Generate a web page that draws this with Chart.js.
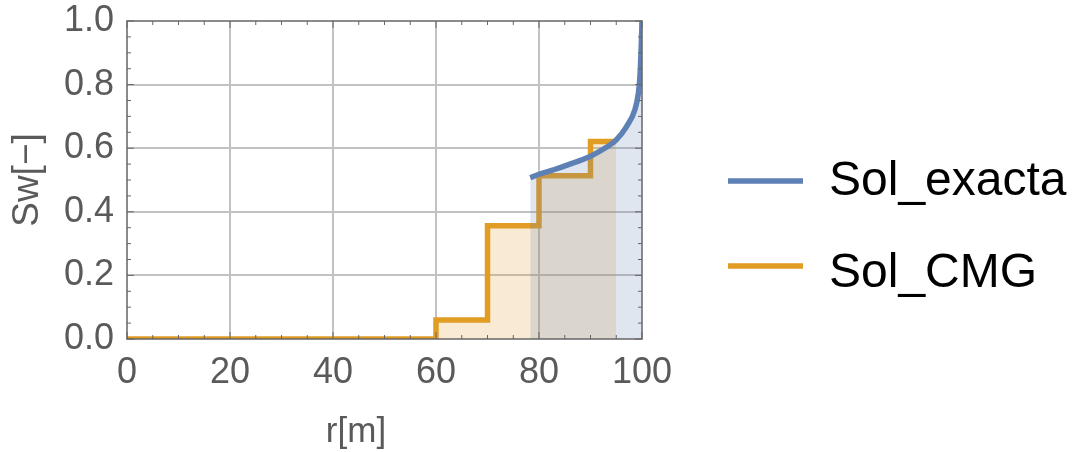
<!DOCTYPE html>
<html>
<head>
<meta charset="utf-8">
<script src="https://cdn.jsdelivr.net/npm/chart.js@4"></script>
<style>
  html, body { margin: 0; padding: 0; background: #ffffff; }
  #wrap { width: 1074px; height: 452px; }
</style>
</head>
<body>
<div id="wrap"><canvas id="chart" width="1074" height="452"></canvas></div>
<script>
// exact (analytical) solution
const exactR  = [78.3, 80, 83, 86, 90, 93, 95, 97, 98.6, 99.3, 99.6, 99.8, 99.95, 100];
const exactSw = [0.507, 0.518, 0.533, 0.550, 0.575, 0.602, 0.626, 0.668, 0.72, 0.773, 0.825, 0.898, 0.97, 1.0];

// CMG simulator result (step curve, value held from r to the next r)
const cmgR  = [0, 60, 70, 80, 90, 95];
const cmgSw = [0, 0.06, 0.356, 0.513, 0.621, 0.621];

const seriesNames = ['Sol_exacta', 'Sol_CMG'];
const xTitle = 'r[m]';
const yTitle = 'Sw[\u2212]';

const BLUE = '#5e81b5';
const ORANGE = '#e19c24';
const TEXT = '#5a5a5a';
const GRID = '#c2c2c2';
const FONT = "'Liberation Sans', Arial, sans-serif";

const toPoints = (xs, ys) => xs.map((x, i) => ({ x: x, y: ys[i] }));

const isMajorX = v => Math.round(v) % 20 === 0;
const isMajorY = v => Math.round(v * 100) % 20 === 0;

// frame, minor ticks, axis titles and legend (Mathematica-like look)
const framePlugin = {
    id: 'frame',
    afterDatasetsDraw(chart) {
        const { ctx, chartArea: a, scales } = chart;
        ctx.save();
        ctx.strokeStyle = '#666666';
        ctx.lineWidth = 1.5;
        ctx.strokeRect(a.left, a.top, a.right - a.left, a.bottom - a.top);

        ctx.lineWidth = 1;
        scales.x.ticks.forEach(t => {
            const px = scales.x.getPixelForValue(t.value);
            const len = isMajorX(t.value) ? 7 : 4;
            ctx.beginPath();
            ctx.moveTo(px, a.bottom); ctx.lineTo(px, a.bottom - len);
            ctx.moveTo(px, a.top); ctx.lineTo(px, a.top + len);
            ctx.stroke();
        });
        scales.y.ticks.forEach(t => {
            const py = scales.y.getPixelForValue(t.value);
            const len = isMajorY(t.value) ? 7 : 4;
            ctx.beginPath();
            ctx.moveTo(a.left, py); ctx.lineTo(a.left + len, py);
            ctx.moveTo(a.right, py); ctx.lineTo(a.right - len, py);
            ctx.stroke();
        });
        ctx.restore();
    },
    afterDraw(chart) {
        const { ctx } = chart;
        ctx.save();
        // axis titles
        ctx.fillStyle = TEXT;
        ctx.font = '35px ' + FONT;
        ctx.textAlign = 'center';
        ctx.textBaseline = 'middle';
        ctx.fillText(xTitle, 356, 432);
        ctx.font = '37px ' + FONT;
        ctx.translate(28, 180);
        ctx.rotate(-Math.PI / 2);
        ctx.fillText(yTitle, 0, 0);
        ctx.restore();

        // legend
        ctx.save();
        const colors = [BLUE, ORANGE];
        const rows = [181, 266];
        const bases = [195, 287];
        seriesNames.forEach((name, i) => {
            ctx.strokeStyle = colors[i];
            ctx.lineWidth = 5.5;
            ctx.beginPath();
            ctx.moveTo(728, rows[i]);
            ctx.lineTo(803, rows[i]);
            ctx.stroke();
            ctx.fillStyle = '#000000';
            ctx.font = '48px ' + FONT;
            ctx.textAlign = 'left';
            ctx.textBaseline = 'alphabetic';
            ctx.fillText(name, 829, bases[i]);
        });
        ctx.restore();
    }
};

new Chart(document.getElementById('chart'), {
    type: 'line',
    data: {
        datasets: [
            {
                label: seriesNames[0],
                data: toPoints(exactR, exactSw),
                borderColor: BLUE,
                backgroundColor: 'rgba(94, 129, 181, 0.2)',
                borderWidth: 5.5,
                fill: 'origin',
                pointRadius: 0,
                cubicInterpolationMode: 'monotone',
                borderCapStyle: 'butt'
            },
            {
                label: seriesNames[1],
                data: toPoints(cmgR, cmgSw),
                borderColor: ORANGE,
                backgroundColor: 'rgba(225, 156, 36, 0.2)',
                borderWidth: 5.5,
                fill: 'origin',
                pointRadius: 0,
                stepped: 'before',
                borderJoinStyle: 'miter'
            }
        ]
    },
    options: {
        responsive: false,
        animation: false,
        devicePixelRatio: 1,
        layout: { padding: { left: 0, right: 432, top: 21, bottom: 0 } },
        plugins: {
            legend: { display: false },
            tooltip: { enabled: false }
        },
        scales: {
            x: {
                type: 'linear',
                min: 0,
                max: 100,
                afterFit(scale) {
                    scale.height = 113;
                    scale.paddingLeft = 0;
                    scale.paddingRight = 0;
                },
                border: { display: false },
                grid: {
                    drawTicks: false,
                    lineWidth: 2,
                    color: c => (isMajorX(c.tick.value) && c.tick.value > 0 && c.tick.value < 100) ? GRID : 'rgba(0,0,0,0)'
                },
                ticks: {
                    stepSize: 5,
                    padding: 16,
                    color: TEXT,
                    font: { family: FONT, size: 36, lineHeight: 1 },
                    maxRotation: 0,
                    autoSkip: false,
                    callback: v => isMajorX(v) ? String(v) : ''
                }
            },
            y: {
                type: 'linear',
                min: 0,
                max: 1,
                afterFit(scale) {
                    scale.width = 127;
                    scale.paddingTop = 0;
                    scale.paddingBottom = 0;
                },
                border: { display: false },
                grid: {
                    drawTicks: false,
                    lineWidth: 2,
                    color: c => (isMajorY(c.tick.value) && c.tick.value > 0.01 && c.tick.value < 0.99) ? GRID : 'rgba(0,0,0,0)'
                },
                ticks: {
                    stepSize: 0.05,
                    padding: 13,
                    color: TEXT,
                    font: { family: FONT, size: 36, lineHeight: 1 },
                    autoSkip: false,
                    callback: v => isMajorY(v) ? v.toFixed(1) : ''
                }
            }
        }
    },
    plugins: [framePlugin]
});
</script>
</body>
</html>
